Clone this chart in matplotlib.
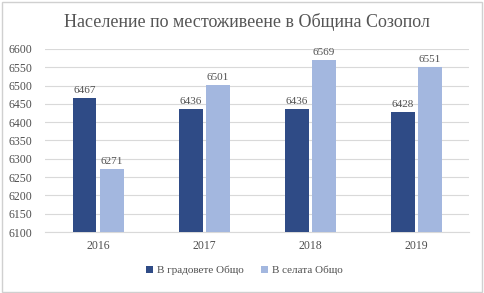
import matplotlib
matplotlib.use("Agg")
import matplotlib.pyplot as plt
import numpy as np
from matplotlib.patches import Rectangle

years = ["2016", "2017", "2018", "2019"]
towns = [6467, 6436, 6436, 6428]
villages = [6271, 6501, 6569, 6551]
series_names = ["В градовете Общо", "В селата Общо"]
title = "Население по местоживеене в Община Созопол"

plt.rcParams['font.family'] = ['Liberation Serif', 'DejaVu Serif']

fig = plt.figure(figsize=(4.84, 2.93), dpi=100)
fig.patch.set_facecolor("white")
fig.add_artist(Rectangle((0.004, 0.004), 0.992, 0.99, transform=fig.transFigure,
                         fill=False, edgecolor="#d0d0d0", linewidth=1))
ax = fig.add_axes([0.093, 0.208, 0.877, 0.625])

x = np.arange(len(years))
w = 0.225
gap = 0.03
dark = "#2f4b86"
light = "#a3b7df"
txt = "#505050"
b1 = ax.bar(x - (w + gap) / 2, towns, w, color=dark, label=series_names[0], zorder=3)
b2 = ax.bar(x + (w + gap) / 2, villages, w, color=light, label=series_names[1], zorder=3)
for bars, vals in ((b1, towns), (b2, villages)):
    for r, v in zip(bars, vals):
        ax.text(r.get_x() + r.get_width() / 2, v + 8, str(v), ha="center", va="bottom",
                fontsize=8, color=txt, zorder=4)

ax.set_ylim(6100, 6600)
ax.set_yticks(np.arange(6100, 6601, 50))
ax.set_xlim(-0.5, 3.5)
ax.set_xticks(x)
ax.set_xticklabels(years)
ax.grid(axis="y", color="#d9d9d9", linewidth=0.8, zorder=0)
for s in ["top", "right", "left"]:
    ax.spines[s].set_visible(False)
ax.spines["bottom"].set_color("#d9d9d9")
ax.tick_params(axis="both", length=0, labelsize=8.5, colors=txt, pad=6)
ax.tick_params(axis="y", pad=9)

fig.text(0.51, 0.925, title, ha="center", va="center", fontsize=13, color="#555555")
ax.legend(loc="upper center", bbox_to_anchor=(0.47, -0.13), ncol=2, frameon=False,
          fontsize=8, handlelength=0.6, handleheight=0.6, columnspacing=1.5,
          handletextpad=0.4, labelcolor=txt)

fig.savefig("out.png", dpi=100)
